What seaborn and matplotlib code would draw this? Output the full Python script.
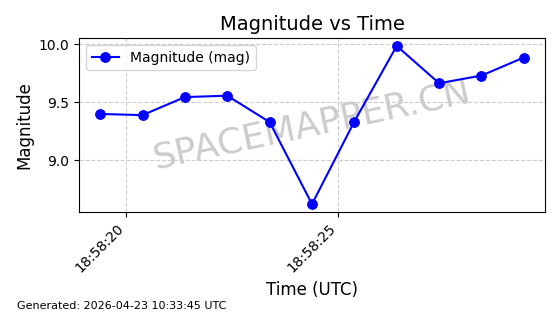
import matplotlib
matplotlib.use("Agg")
import matplotlib.pyplot as plt
import matplotlib.dates as mdates
import seaborn as sns
import pandas as pd

times = ["2026-04-23 18:58:19.38", "2026-04-23 18:58:20.38", "2026-04-23 18:58:21.38",
         "2026-04-23 18:58:22.38", "2026-04-23 18:58:23.38", "2026-04-23 18:58:24.38",
         "2026-04-23 18:58:25.38", "2026-04-23 18:58:26.38", "2026-04-23 18:58:27.38",
         "2026-04-23 18:58:28.38", "2026-04-23 18:58:29.38"]
magnitudes = [9.40, 9.39, 9.545, 9.557, 9.33, 8.625, 9.335, 9.985, 9.664, 9.73, 9.885]

df = pd.DataFrame({"time": pd.to_datetime(times), "mag": magnitudes})

fig = plt.figure(figsize=(5.6, 3.14), dpi=100)
ax = fig.add_axes([79/560, 1-212/314, (545-79)/560, (212-38)/314])

sns.lineplot(data=df, x="time", y="mag", ax=ax, color="blue", marker="o",
             markersize=7, markeredgecolor="blue", linewidth=1.5,
             label="Magnitude (mag)", zorder=3)

ax.xaxis.set_major_locator(mdates.SecondLocator(bysecond=range(0, 60, 5)))
ax.xaxis.set_major_formatter(mdates.DateFormatter("%H:%M:%S"))
plt.setp(ax.get_xticklabels(), rotation=45, ha="right")
ax.set_yticks([9.0, 9.5, 10.0])

ax.grid(True, linestyle="--", color="#cccccc", linewidth=0.8)
ax.set_title("Magnitude vs Time", fontsize=14)
ax.set_xlabel("Time (UTC)", fontsize=12)
ax.set_ylabel("Magnitude", fontsize=12)
ax.legend(loc="upper left", fontsize=10)

ax.text(0.5, 0.5, "SPACEMAPPER.CN", transform=ax.transAxes, fontsize=26,
        color="gray", alpha=0.4, rotation=12, ha="center", va="center", zorder=1)

fig.text(17/560, 0.016, "Generated: 2026-04-23 10:33:45 UTC", fontsize=8)

fig.savefig("out.png", dpi=100)
